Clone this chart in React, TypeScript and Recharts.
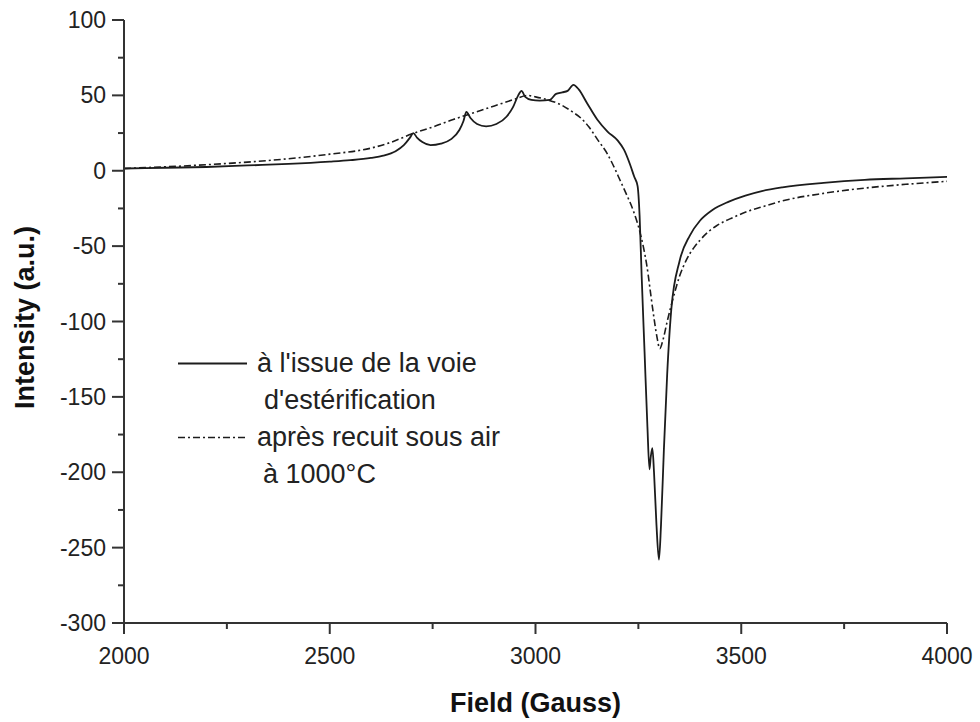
import React from "react";
import { LineChart, Line, XAxis, YAxis, Legend } from "recharts";

// solid curve: "à l'issue de la voie d'estérification"
const fieldEster = [
  2000, 2100, 2200, 2300, 2400, 2500, 2550, 2600, 2630, 2660, 2680, 2695, 2703, 2712, 2725, 2745,
  2770, 2795, 2815, 2825, 2832, 2842, 2858, 2880, 2905, 2930, 2945, 2958, 2966, 2975, 2990, 3010,
  3035, 3050, 3065, 3078, 3092, 3105, 3125, 3150, 3175, 3200, 3215, 3230, 3240, 3248, 3253, 3258,
  3265, 3272, 3277, 3280, 3284, 3288, 3294, 3300, 3305, 3312, 3320, 3330, 3350, 3375, 3400, 3430,
  3470, 3510, 3550, 3600, 3700, 3800, 3900, 4000,
];
const intensityEster = [
  1.5, 2, 2.5, 3.5, 4.5, 6, 7, 8.5, 10, 13, 17, 22, 25, 22, 19, 17,
  18, 21, 27, 33, 39, 35, 31, 29.5, 31, 36, 42, 50, 53, 49, 47, 46.5,
  47, 51, 52, 53, 57, 54, 45, 34, 26, 20, 14, 4, -4, -10, -30, -70,
  -120, -170, -198, -190, -184, -200, -235, -258, -235, -185, -135, -92, -60, -43, -33, -26,
  -20.5, -16.5, -13.5, -11, -8, -6, -5, -4,
];

// dash-dot curve: "après recuit sous air à 1000°C"
const fieldAnneal = [
  2000, 2200, 2400, 2500, 2600, 2650, 2700, 2750, 2800, 2850, 2900, 2950, 2980, 3000, 3030, 3060,
  3090, 3110, 3130, 3150, 3175, 3190, 3205, 3220, 3237, 3255, 3270, 3285, 3295, 3302, 3310, 3320,
  3335, 3350, 3367, 3385, 3400, 3420, 3440, 3480, 3520, 3550, 3600, 3700, 3800, 3900, 4000,
];
const intensityAnneal = [
  1.5, 4, 8, 11, 15, 19, 24.5, 29, 34, 38.5, 43, 47.5, 50, 49, 47, 44,
  39, 35, 29, 21, 11, 3, -6, -15, -26, -42, -62, -92, -110, -118, -112, -100,
  -84, -70, -59, -51, -46, -40.5, -36.5, -31, -26.5, -24, -20, -15, -11.5, -9, -7,
];

const xTicks = [2000, 2250, 2500, 2750, 3000, 3250, 3500, 3750, 4000];
const yTicks = [100, 75, 50, 25, 0, -25, -50, -75, -100, -125, -150, -175, -200, -225, -250, -275, -300];
const topTicks = [2000, 2200, 2400, 2600, 2800, 3000, 3200, 3400, 3600, 3800, 4000];
const rightTicks = [100, 60, 20, -20, -60, -100, -140, -180, -220, -260, -300];

const esterData = fieldEster.map((x, i) => ({ x, y: intensityEster[i] }));
const annealData = fieldAnneal.map((x, i) => ({ x, y: intensityAnneal[i] }));

const FONT = "'Liberation Sans', Arial, sans-serif";
const AXIS = "#333";
const INK = "#1c1c1c";

const BottomTick = (props: any) => {
  const { x, y, payload } = props;
  const major = payload.value % 500 === 0;
  return (
    <g>
      <line x1={x} x2={x} y1={y} y2={y + (major ? 11 : 6)} stroke={AXIS} strokeWidth={2} />
      {major && (
        <text x={x} y={y + 41} textAnchor="middle" fontFamily={FONT} fontSize={23} fill="#222">
          {payload.value}
        </text>
      )}
    </g>
  );
};

const LeftTick = (props: any) => {
  const { x, y, payload } = props;
  const major = payload.value % 50 === 0;
  return (
    <g>
      <line x1={x - (major ? 12 : 6)} x2={x} y1={y} y2={y} stroke={AXIS} strokeWidth={2} />
      {major && (
        <text x={x - 18} y={y + 8} textAnchor="end" fontFamily={FONT} fontSize={23} fill="#222">
          {payload.value}
        </text>
      )}
    </g>
  );
};

const TopTick = (props: any) => {
  const { x, y, payload } = props;
  const major = (payload.value - 2000) % 400 === 0;
  return <line x1={x} x2={x} y1={y} y2={y + (major ? 12 : 6)} stroke={AXIS} strokeWidth={2} />;
};

const RightTick = (props: any) => {
  const { x, y, payload } = props;
  const major = (payload.value + 300) % 80 === 0;
  return <line x1={x - (major ? 12 : 6)} x2={x} y1={y} y2={y} stroke={AXIS} strokeWidth={2} />;
};

const XTitle = (props: any) => {
  const vb = props.viewBox;
  return (
    <text x={vb.x + vb.width / 2} y={712} textAnchor="middle" fontFamily={FONT} fontWeight="bold" fontSize={27} fill="#111">
      Field (Gauss)
    </text>
  );
};

const YTitle = (props: any) => {
  const vb = props.viewBox;
  const cy = vb.y + vb.height / 2 - 4;
  return (
    <text x={34} y={cy} transform={`rotate(-90 34 ${cy})`} textAnchor="middle" fontFamily={FONT} fontWeight="bold" fontSize={27} fill="#111">
      Intensity (a.u.)
    </text>
  );
};

const LegendBox = () => {
  const row = { display: "flex", alignItems: "center", height: 37, whiteSpace: "nowrap" as const };
  return (
    <div style={{ fontFamily: FONT, fontSize: 27, color: "#222" }}>
      <div style={row}>
        <svg width={79} height={37}>
          <line x1={0} x2={69} y1={18.5} y2={18.5} stroke={INK} strokeWidth={2} />
        </svg>
        <span>à l'issue de la voie</span>
      </div>
      <div style={{ ...row, paddingLeft: 86 }}>d'estérification</div>
      <div style={row}>
        <svg width={79} height={37}>
          <line x1={0} x2={69} y1={18.5} y2={18.5} stroke={INK} strokeWidth={1.6} strokeDasharray="7 3 2 3" />
        </svg>
        <span>après recuit sous air</span>
      </div>
      <div style={{ ...row, paddingLeft: 85 }}>à 1000°C</div>
    </div>
  );
};

export default function App() {
  return (
    <div style={{ position: "absolute", left: 0, top: 0, width: 980, height: 722, background: "#fff" }}>
      <LineChart width={980} height={722} margin={{ top: 20, right: 33, bottom: 0, left: 0 }}>
        <XAxis
          dataKey="x"
          type="number"
          domain={[2000, 4000]}
          ticks={xTicks}
          interval={0}
          allowDataOverflow
          height={99}
          tickSize={0}
          tickMargin={0}
          tickLine={false}
          tick={<BottomTick />}
          axisLine={{ stroke: AXIS, strokeWidth: 2 }}
          label={<XTitle />}
        />
        <XAxis
          xAxisId="top"
          orientation="top"
          type="number"
          domain={[2000, 4000]}
          ticks={topTicks}
          interval={0}
          allowDataOverflow
          height={0}
          tickSize={0}
          tickMargin={0}
          tickLine={false}
          tick={<TopTick />}
          axisLine={{ stroke: AXIS, strokeWidth: 2 }}
        />
        <YAxis
          type="number"
          domain={[-300, 100]}
          ticks={yTicks}
          interval={0}
          allowDataOverflow
          width={124}
          tickSize={0}
          tickMargin={0}
          tickLine={false}
          tick={<LeftTick />}
          axisLine={{ stroke: AXIS, strokeWidth: 2 }}
          label={<YTitle />}
        />
        <YAxis
          yAxisId="right"
          orientation="right"
          type="number"
          domain={[-300, 100]}
          ticks={rightTicks}
          interval={0}
          allowDataOverflow
          width={0}
          tickSize={0}
          tickMargin={0}
          tickLine={false}
          tick={<RightTick />}
          axisLine={{ stroke: AXIS, strokeWidth: 2 }}
        />
        <Legend
          layout="horizontal"
          verticalAlign="middle"
          align="center"
          content={<LegendBox />}
          wrapperStyle={{ left: 178, top: 345, width: 380, height: 150 }}
        />
        <Line
          data={annealData}
          dataKey="y"
          type="monotone"
          stroke={INK}
          strokeWidth={1.6}
          strokeDasharray="7 3 2 3"
          dot={false}
          activeDot={false}
          isAnimationActive={false}
        />
        <Line
          data={esterData}
          dataKey="y"
          type="monotone"
          stroke={INK}
          strokeWidth={1.8}
          dot={false}
          activeDot={false}
          isAnimationActive={false}
        />
      </LineChart>
    </div>
  );
}
